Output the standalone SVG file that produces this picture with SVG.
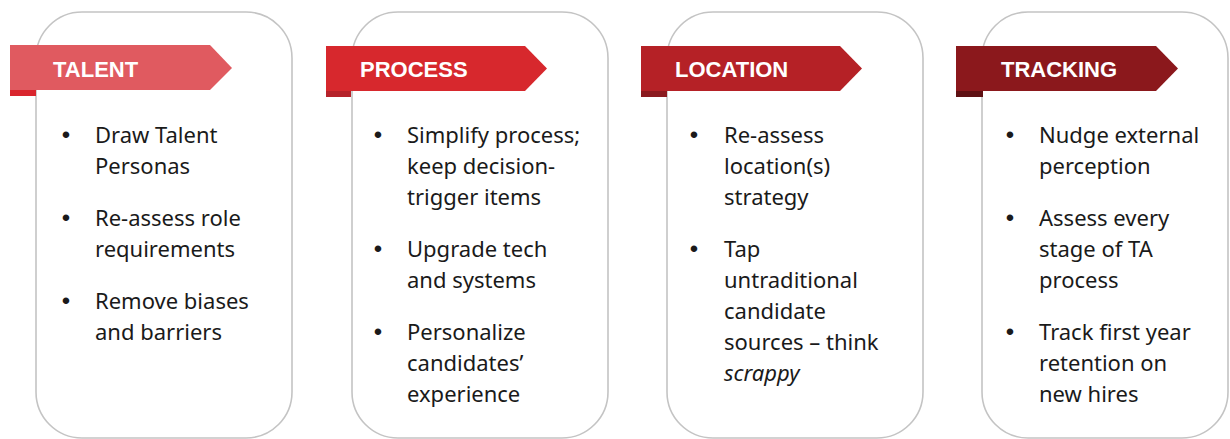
<svg xmlns="http://www.w3.org/2000/svg" width="1230" height="439" viewBox="0 0 1230 439">
<style>
.card{fill:#fff;stroke:#c4c4c4;stroke-width:1.6}
.ttl{font-family:"Liberation Sans",Arial,sans-serif;font-weight:bold;font-size:22px;fill:#fff}
.tx{font-family:"Noto Sans","Open Sans",sans-serif;font-size:22px;fill:#1a1a1a}
.bul{font-family:"Liberation Sans",Arial,sans-serif;font-size:24px;text-anchor:middle;fill:#1a1a1a}
</style>
<rect width="1230" height="439" fill="#fff"/>
<g id="talent">
<rect class="card" x="36" y="12" width="256" height="426" rx="46"/>
<rect x="10" y="90" width="26" height="6" fill="#d9262e"/>
<polygon points="10,45 210,45 232,68 210,90 10,90" fill="#e05a60"/>
<text class="ttl" x="53" y="77">TALENT</text>
<g class="tx">
<text x="66" y="143" class="bul">•</text>
<text x="95" y="143">Draw Talent</text>
<text x="95" y="174">Personas</text>
<text x="66" y="226" class="bul">•</text>
<text x="95" y="226">Re-assess role</text>
<text x="95" y="257">requirements</text>
<text x="66" y="309" class="bul">•</text>
<text x="95" y="309">Remove biases</text>
<text x="95" y="340">and barriers</text>
</g>
</g>
<g id="process">
<rect class="card" x="352" y="12" width="256" height="426" rx="46"/>
<rect x="326" y="91" width="25" height="6" fill="#b5222a"/>
<polygon points="326,46 525,46 547,68.5 525,91 326,91" fill="#d7282d"/>
<text class="ttl" x="360" y="77">PROCESS</text>
<g class="tx">
<text x="378" y="143" class="bul">•</text>
<text x="407" y="143">Simplify process;</text>
<text x="407" y="174">keep decision-</text>
<text x="407" y="205">trigger items</text>
<text x="378" y="257" class="bul">•</text>
<text x="407" y="257">Upgrade tech</text>
<text x="407" y="288">and systems</text>
<text x="378" y="340" class="bul">•</text>
<text x="407" y="340">Personalize</text>
<text x="407" y="371">candidates’</text>
<text x="407" y="402">experience</text>
</g>
</g>
<g id="location">
<rect class="card" x="667" y="12" width="256" height="426" rx="46"/>
<rect x="641" y="91" width="26" height="6" fill="#8b1a1f"/>
<polygon points="641,46 840,46 862,68.5 840,91 641,91" fill="#b52126"/>
<text class="ttl" x="675" y="77">LOCATION</text>
<g class="tx">
<text x="694" y="143" class="bul">•</text>
<text x="724" y="143">Re-assess</text>
<text x="724" y="174">location(s)</text>
<text x="724" y="205">strategy</text>
<text x="694" y="257" class="bul">•</text>
<text x="724" y="257">Tap</text>
<text x="724" y="288">untraditional</text>
<text x="724" y="319">candidate</text>
<text x="724" y="350">sources – think</text>
<text x="724" y="381" font-style="italic">scrappy</text>
</g>
</g>
<g id="tracking">
<rect class="card" x="982" y="12" width="246" height="426" rx="46"/>
<rect x="956" y="91" width="27" height="6" fill="#5e1013"/>
<polygon points="956,46 1156,46 1178,68.5 1156,91 956,91" fill="#8b181c"/>
<text class="ttl" x="1001" y="77">TRACKING</text>
<g class="tx">
<text x="1010" y="143" class="bul">•</text>
<text x="1039" y="143">Nudge external</text>
<text x="1039" y="174">perception</text>
<text x="1010" y="226" class="bul">•</text>
<text x="1039" y="226">Assess every</text>
<text x="1039" y="257">stage of TA</text>
<text x="1039" y="288">process</text>
<text x="1010" y="340" class="bul">•</text>
<text x="1039" y="340">Track first year</text>
<text x="1039" y="371">retention on</text>
<text x="1039" y="402">new hires</text>
</g>
</g>
<g id="connectors"></g>
</svg>
